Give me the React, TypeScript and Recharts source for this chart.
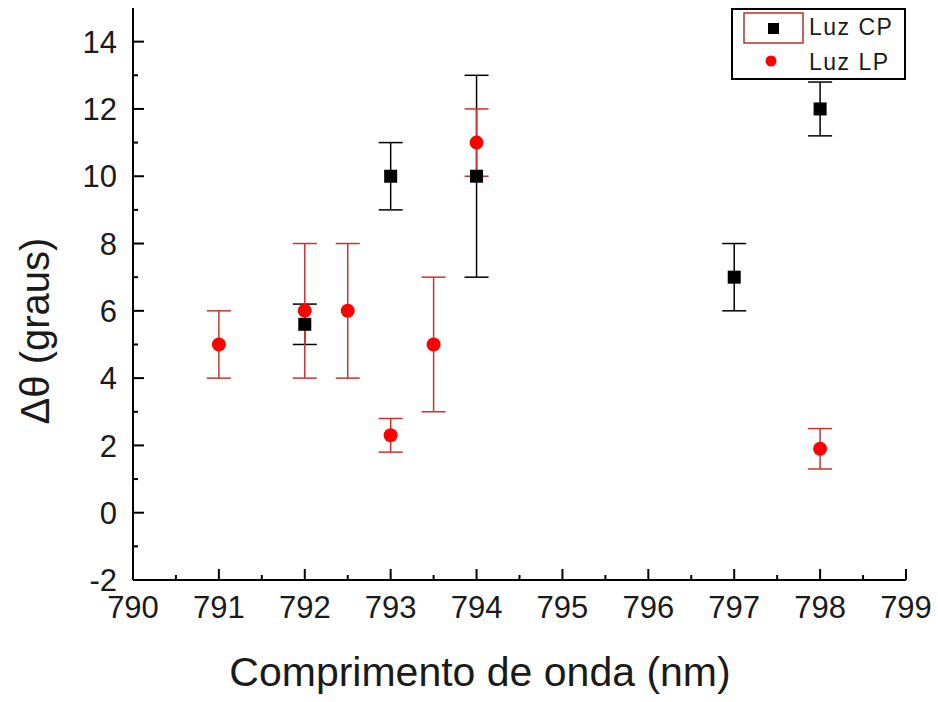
import React from 'react';
import { ScatterChart, Scatter, XAxis, YAxis, ErrorBar, Legend } from 'recharts';

const cpX = [792, 793, 794, 797, 798];
const cpY = [5.6, 10, 10, 7, 12];
const cpErr = [0.6, 1, 3, 1, 0.8];

const lpX = [791, 792, 792.5, 793, 793.5, 794, 798];
const lpY = [5, 6, 6, 2.3, 5, 11, 1.9];
const lpErr = [1, 2, 2, 0.5, 2, 1, 0.6];

const xTicks = [790, 790.5, 791, 791.5, 792, 792.5, 793, 793.5, 794, 794.5, 795, 795.5, 796, 796.5, 797, 797.5, 798, 798.5, 799];
const yTicks = [-2, -1, 0, 1, 2, 3, 4, 5, 6, 7, 8, 9, 10, 11, 12, 13, 14, 15];

const cpData = cpX.map((x, i) => ({ x, y: cpY[i], err: cpErr[i] }));
const lpData = lpX.map((x, i) => ({ x, y: lpY[i], err: lpErr[i] }));

const FONT = '"Liberation Sans", Arial, sans-serif';
const TXT = '#1a1a1a';

const BottomTick = (props: any) => {
  const { x, y, payload } = props;
  const v = payload.value;
  const major = Number.isInteger(v);
  return (
    <g>
      <line x1={x} x2={x} y1={y} y2={y - (major ? 11 : 5)} stroke="#000" strokeWidth={2} />
      {major && (
        <text x={x} y={y + 38} textAnchor="middle" fontSize={31} fontFamily={FONT} fill={TXT}>
          {v}
        </text>
      )}
    </g>
  );
};

const TopTick = (props: any) => {
  const { x, y, payload } = props;
  const major = Number.isInteger(payload.value);
  return <line x1={x} x2={x} y1={y} y2={y + (major ? 11 : 5)} stroke="#000" strokeWidth={2} />;
};

const LeftTick = (props: any) => {
  const { x, y, payload } = props;
  const v = payload.value;
  const major = v % 2 === 0;
  if (v === 15) return <g />;
  return (
    <g>
      <line x1={x} x2={x + (major ? 11 : 5)} y1={y} y2={y} stroke="#000" strokeWidth={2} />
      {major && (
        <text x={x - 16} y={y} dy="0.36em" textAnchor="end" fontSize={31} fontFamily={FONT} fill={TXT}>
          {v}
        </text>
      )}
    </g>
  );
};

const RightTick = (props: any) => {
  const { x, y, payload } = props;
  const v = payload.value;
  if (v === 15) return <g />;
  const major = v % 2 === 0;
  return <line x1={x} x2={x - (major ? 11 : 5)} y1={y} y2={y} stroke="#000" strokeWidth={2} />;
};

const SquareShape = (props: any) => {
  const { cx, cy } = props;
  return <rect x={cx - 6.5} y={cy - 6.5} width={13} height={13} fill="#000" />;
};

const CircleShape = (props: any) => {
  const { cx, cy } = props;
  return <circle cx={cx} cy={cy} r={7} fill="#ff0000" />;
};

const LegendBox = () => (
  <svg width={175} height={72} style={{ display: 'block' }}>
    <rect x={1} y={1} width={173} height={70} fill="#fff" stroke="#000" strokeWidth={2} />
    <rect x={13} y={5} width={59} height={30} fill="none" stroke="#b83030" strokeWidth={1.5} />
    <rect x={37} y={15} width={11} height={11} fill="#000" />
    <text x={78} y={27} fontSize={23} fontFamily={FONT} fill={TXT} letterSpacing={1.5}>Luz CP</text>
    <circle cx={40} cy={53} r={5.5} fill="#ff0000" />
    <text x={78} y={62} fontSize={23} fontFamily={FONT} fill={TXT} letterSpacing={1.5}>Luz LP</text>
  </svg>
);

const YLabel = () => (
  <text x={35} y={331} transform="rotate(-90 35 331)" textAnchor="middle" dominantBaseline="central" fontSize={40} fontFamily={FONT} fill={TXT}>
    Δθ (graus)
  </text>
);

const XLabel = () => (
  <text x={480} y={686} textAnchor="middle" fontSize={41} fontFamily={FONT} fill={TXT}>
    Comprimento de onda (nm)
  </text>
);

export default function App() {
  return (
    <div style={{ position: 'absolute', left: 0, top: 0, background: '#fff' }}>
      <ScatterChart width={938} height={702} margin={{ top: 8, right: 32, bottom: 0, left: 0 }}>
        <XAxis
          xAxisId="b"
          dataKey="x"
          type="number"
          domain={[790, 799]}
          ticks={xTicks}
          interval={0}
          height={122}
          tickSize={0}
          tickMargin={0}
          tick={BottomTick}
          tickLine={false}
          axisLine={{ stroke: '#000', strokeWidth: 2 }}
          label={{ content: XLabel }}
        />
        <XAxis
          xAxisId="t"
          orientation="top"
          type="number"
          domain={[790, 799]}
          ticks={xTicks}
          interval={0}
          height={0}
          tickSize={0}
          tickMargin={0}
          tick={TopTick}
          tickLine={false}
          axisLine={{ stroke: '#000', strokeWidth: 2 }}
        />
        <YAxis
          yAxisId="l"
          dataKey="y"
          type="number"
          domain={[-2, 15]}
          ticks={yTicks}
          interval={0}
          width={133}
          tickSize={0}
          tickMargin={0}
          tick={LeftTick}
          tickLine={false}
          axisLine={{ stroke: '#000', strokeWidth: 2 }}
          label={{ content: YLabel }}
        />
        <YAxis
          yAxisId="r"
          orientation="right"
          type="number"
          domain={[-2, 15]}
          ticks={yTicks}
          interval={0}
          width={0}
          tickSize={0}
          tickMargin={0}
          tick={RightTick}
          tickLine={false}
          axisLine={{ stroke: '#000', strokeWidth: 2 }}
        />
        <Scatter name="Luz CP" data={cpData} xAxisId="b" yAxisId="l" shape={SquareShape} isAnimationActive={false}>
          <ErrorBar dataKey="err" direction="y" width={12} stroke="#000" strokeWidth={1.5} isAnimationActive={false} />
        </Scatter>
        <Scatter name="Luz LP" data={lpData} xAxisId="b" yAxisId="l" shape={CircleShape} isAnimationActive={false}>
          <ErrorBar dataKey="err" direction="y" width={12} stroke="#c83232" strokeWidth={1.5} isAnimationActive={false} />
        </Scatter>
        <Legend
          layout="vertical"
          align="center"
          verticalAlign="middle"
          content={LegendBox}
          wrapperStyle={{ position: 'absolute', left: 731, top: 8, width: 175, height: 72 }}
        />
      </ScatterChart>
    </div>
  );
}
